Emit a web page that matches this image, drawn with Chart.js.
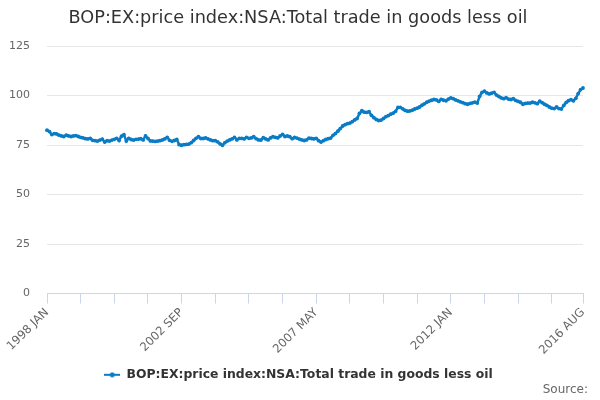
<!DOCTYPE html>
<html lang="en">
<head>
    <meta charset="UTF-8">
    <title>BOP:EX:price index:NSA:Total trade in goods less oil</title>
    <style>
        body {
            margin: 0;
            padding: 0;
            background-color: white;
        }
        .chart-box {
            width: 600px;
            height: 400px;
        }
    </style>
    <script src="https://cdn.jsdelivr.net/npm/chart.js"></script>
</head>
<body>
<div class="chart-box">
    <canvas id="bopChart" width="600" height="400"></canvas>
</div>
<script>
    // months in the series (1998 JAN .. 2016 AUG)
    const monthNames = ['JAN', 'FEB', 'MAR', 'APR', 'MAY', 'JUN', 'JUL', 'AUG', 'SEP', 'OCT', 'NOV', 'DEC'];
    const firstYear = 1998;
    const lastYear = 2016;
    const lastMonth = 'AUG';

    // labels shown under the x axis
    const shownLabels = ['1998 JAN', '2002 SEP', '2007 MAY', '2012 JAN', '2016 AUG'];
    const yTicks = [0, 25, 50, 75, 100, 125];

    // index values, one per month
    const values1998to2002 = [
        82.5, 81.8, 80.3, 80.8, 80.6, 80.0, 79.6, 79.3, 80.0, 79.6, 79.3, 79.6,
        79.8, 79.3, 78.9, 78.6, 78.2, 78.1, 78.4, 77.4, 77.2, 77.0, 77.5, 78.0,
        76.5, 77.2, 77.0, 77.5, 77.9, 78.4, 77.3, 79.5, 80.3, 77.0, 78.4, 77.8,
        77.5, 77.9, 78.0, 78.2, 77.6, 79.6, 78.3, 77.1, 77.0, 76.8, 77.0, 77.2,
        77.6, 78.1, 78.9, 77.4, 76.9, 77.3, 77.8, 75.2, 74.9, 75.2, 75.3, 75.5
    ];
    const values2003to2007 = [
        76.2, 77.3, 78.4, 79.2, 78.3, 78.3, 78.6, 78.1, 77.6, 77.2, 77.2, 76.6,
        75.6, 74.9, 76.2, 77.0, 77.6, 78.1, 78.9, 77.6, 78.4, 78.4, 78.1, 78.9,
        78.4, 78.6, 79.2, 78.2, 77.6, 77.5, 78.7, 78.1, 77.6, 78.6, 79.2, 78.9,
        78.6, 79.6, 80.4, 79.3, 79.6, 79.2, 78.2, 78.8, 78.5, 78.0, 77.6, 77.3,
        77.6, 78.5, 78.3, 78.1, 78.4, 77.2, 76.5, 77.2, 77.8, 78.2, 78.5, 79.9
    ];
    const values2008to2012 = [
        80.8, 82.0, 83.3, 84.6, 85.3, 85.8, 86.1, 86.8, 87.7, 88.4, 91.0, 92.3,
        91.6, 91.5, 91.8, 90.0, 88.8, 87.9, 87.4, 87.6, 88.4, 89.3, 89.9, 90.6,
        91.1, 92.0, 94.0, 94.0, 93.3, 92.5, 92.1, 92.2, 92.6, 93.2, 93.6, 94.2,
        95.1, 95.8, 96.6, 97.2, 97.6, 98.0, 97.8, 97.0, 98.1, 97.6, 97.3, 98.2,
        98.8, 98.4, 97.8, 97.3, 96.8, 96.4, 95.9, 95.6, 96.0, 96.3, 96.7, 96.2
    ];
    const values2013to2016 = [
        99.6, 101.6, 102.2, 101.3, 100.8, 101.2, 101.6, 100.2, 99.5, 98.8, 98.4, 98.9,
        98.2, 98.0, 98.4, 97.5, 97.0, 96.6, 95.6, 96.0, 96.2, 96.2, 96.6, 96.3,
        95.9, 97.1, 96.4, 95.6, 95.0, 94.2, 93.6, 93.4, 94.2, 93.4, 93.2, 95.0,
        96.5, 97.4, 97.9, 97.3, 98.6, 101.0, 103.0, 103.8
    ];

    const seriesName = 'BOP:EX:price index:NSA:Total trade in goods less oil';
    const lineColor = '#0a7cc6';

    // build the month labels
    const labels = [];
    for (let y = firstYear; y <= lastYear; y++) {
        for (let m = 0; m < 12; m++) {
            labels.push(y + ' ' + monthNames[m]);
            if (y === lastYear && monthNames[m] === lastMonth) break;
        }
    }
    const values = values1998to2002.concat(values2003to2007, values2008to2012, values2013to2016);

    // small legend symbol: line with a dot
    const legendMark = document.createElement('canvas');
    legendMark.width = 16;
    legendMark.height = 6;
    const lm = legendMark.getContext('2d');
    lm.strokeStyle = lineColor;
    lm.lineWidth = 2;
    lm.beginPath();
    lm.moveTo(0, 3);
    lm.lineTo(16, 3);
    lm.stroke();
    lm.fillStyle = lineColor;
    lm.beginPath();
    lm.arc(8, 3, 2.5, 0, Math.PI * 2);
    lm.fill();

    // title on top and "Source:" at the bottom right
    const extraText = {
        id: 'extraText',
        afterDraw(chart) {
            const ctx = chart.ctx;
            ctx.save();
            ctx.textBaseline = 'middle';
            ctx.textAlign = 'center';
            ctx.font = '17.7px "DejaVu Sans"';
            ctx.fillStyle = '#333333';
            ctx.fillText(seriesName, 298, 18);
            ctx.textAlign = 'right';
            ctx.font = '12px "DejaVu Sans"';
            ctx.fillStyle = '#666666';
            ctx.fillText('Source:', 588, 390);
            ctx.restore();
        }
    };

    const lastIndex = labels.length - 1;

    new Chart(document.getElementById('bopChart'), {
        type: 'line',
        data: {
            labels: labels,
            datasets: [{
                label: seriesName,
                data: values,
                borderColor: lineColor,
                backgroundColor: lineColor,
                borderWidth: 2.5,
                pointRadius: 1.9,
                pointBorderWidth: 0,
                pointBackgroundColor: lineColor,
                tension: 0,
                fill: false
            }]
        },
        options: {
            responsive: false,
            animation: false,
            layout: {
                padding: { left: 0, right: 3, top: 46, bottom: 9 }
            },
            plugins: {
                title: { display: false },
                legend: {
                    position: 'bottom',
                    labels: {
                        color: '#333333',
                        font: { family: 'DejaVu Sans', size: 12.4, weight: 'bold' },
                        usePointStyle: true,
                        pointStyle: legendMark,
                        pointStyleWidth: 16,
                        padding: 10
                    }
                },
                tooltip: { enabled: false }
            },
            scales: {
                x: {
                    afterFit: function (scale) { scale.height = 65; },
                    grid: {
                        drawOnChartArea: false,
                        drawTicks: true,
                        tickLength: 10,
                        color: '#ccd6eb'
                    },
                    border: { color: '#ccd6eb', width: 1 },
                    ticks: {
                        autoSkip: false,
                        minRotation: 45,
                        maxRotation: 45,
                        padding: 2,
                        color: '#666666',
                        font: { family: 'DejaVu Sans', size: 11.7 },
                        callback: function (value, index) {
                            const lab = labels[index];
                            if (shownLabels.includes(lab)) return lab;
                            if (index % 14 === 0 || index === lastIndex) return '';
                            return null;
                        }
                    }
                },
                y: {
                    min: yTicks[0],
                    max: yTicks[yTicks.length - 1],
                    afterFit: function (scale) { scale.width = 47; },
                    grid: {
                        color: '#e6e6e6',
                        drawTicks: false
                    },
                    border: { display: false },
                    ticks: {
                        stepSize: 25,
                        padding: 17,
                        color: '#666666',
                        font: { family: 'DejaVu Sans', size: 11 }
                    }
                },
                // empty right-hand margin, keeps the plot ending where the reference does
                yRight: {
                    position: 'right',
                    afterFit: function (scale) { scale.width = 14; },
                    grid: { display: false },
                    border: { display: false },
                    ticks: { display: false }
                }
            }
        },
        plugins: [extraText]
    });
</script>
</body>
</html>
